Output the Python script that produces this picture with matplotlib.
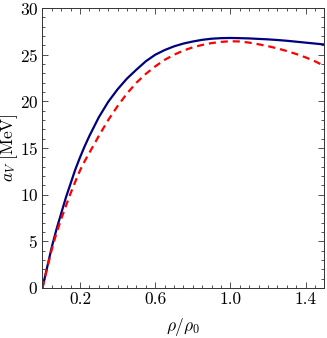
import numpy as np
import matplotlib
matplotlib.use('Agg')
import matplotlib.pyplot as plt
from matplotlib.ticker import MultipleLocator

plt.rcParams['mathtext.fontset'] = 'cm'
plt.rcParams['font.family'] = 'serif'
plt.rcParams['font.serif'] = ['cmr10', 'DejaVu Serif']
plt.rcParams['axes.formatter.use_mathtext'] = True

# density (in units of rho_0)
rho = [0.0, 0.025, 0.05, 0.075, 0.1, 0.125, 0.15, 0.175, 0.2, 0.225, 0.25,
       0.3, 0.35, 0.4, 0.45, 0.5, 0.55, 0.6, 0.65, 0.7, 0.75, 0.8, 0.85,
       0.9, 0.95, 1.0, 1.05, 1.1, 1.15, 1.2, 1.25, 1.3, 1.35, 1.4, 1.45, 1.5]
# solid blue curve
aV_solid = [0.0, 2.2, 4.4, 6.3, 8.0, 9.7, 11.2, 12.7, 14.0, 15.2, 16.3,
            18.3, 19.95, 21.3, 22.45, 23.4, 24.3, 25.0, 25.5, 25.9, 26.2,
            26.42, 26.6, 26.72, 26.78, 26.8, 26.78, 26.75, 26.7, 26.65,
            26.58, 26.5, 26.4, 26.3, 26.2, 26.1]
# dashed red curve
aV_dashed = [0.0, 2.1, 4.15, 5.9, 7.4, 8.8, 10.15, 11.4, 12.6, 13.6, 14.5,
             16.3, 18.0, 19.5, 20.85, 22.0, 22.95, 23.75, 24.45, 25.0, 25.45,
             25.8, 26.05, 26.25, 26.38, 26.45, 26.42, 26.3, 26.12, 25.92,
             25.68, 25.4, 25.08, 24.72, 24.3, 23.8]

xticks = [0.2, 0.6, 1.0, 1.4]
xticklabels = ['0.2', '0.6', '1.0', '1.4']
yticks = [0, 5, 10, 15, 20, 25, 30]

fig = plt.figure(figsize=(3.27, 3.38), dpi=100)
ax = fig.add_axes([0.1297, 0.148, 0.8623, 0.828])

ax.plot(rho, aV_solid, color='#000080', lw=1.6, solid_joinstyle='round')
ax.plot(rho, aV_dashed, color='#ff0000', lw=1.6, dashes=(3.2, 2.2))

ax.set_xlim(0, 1.5)
ax.set_ylim(0, 30)
ax.set_xticks(xticks)
ax.set_xticklabels(xticklabels)
ax.set_yticks(yticks)
ax.xaxis.set_minor_locator(MultipleLocator(0.05))
ax.yaxis.set_minor_locator(MultipleLocator(1))
ax.tick_params(which='both', direction='in', top=True, right=True,
               labelsize=12.5, width=0.6, color='#333333')
ax.tick_params(which='major', length=4.5, pad=3)
ax.tick_params(which='minor', length=2.3)
for s in ax.spines.values():
    s.set_linewidth(0.7)
    s.set_color('#333333')

ax.set_xlabel(r'$\rho/\rho_0$', fontsize=12.5)
ax.xaxis.set_label_coords(0.5, -0.1)
ax.set_ylabel(r'$a_V\ [\mathrm{MeV}]$', fontsize=12.5)
ax.yaxis.set_label_coords(-0.078, 0.5)

fig.savefig('out.png', dpi=100)
